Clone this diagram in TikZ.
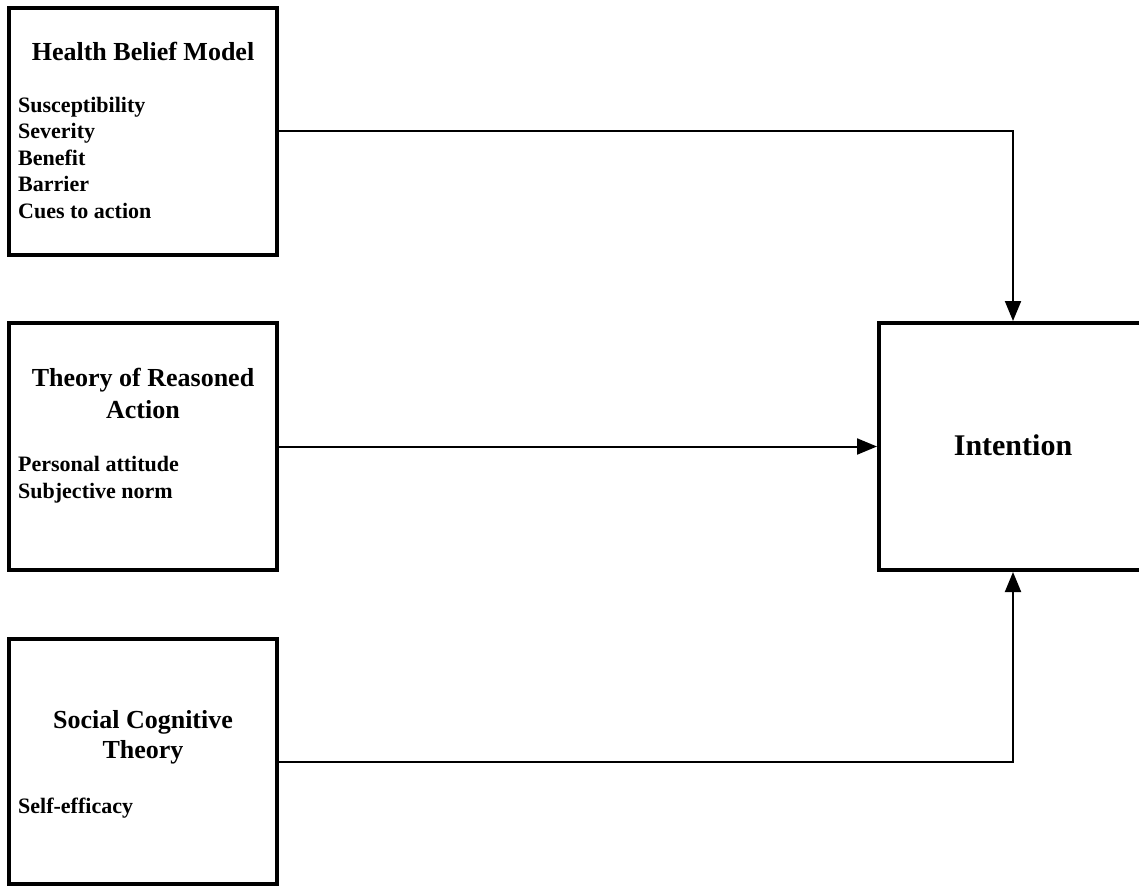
\documentclass[tikz,border=0pt]{standalone}
\usepackage{fontspec}
\setmainfont{Liberation Serif}
\usetikzlibrary{arrows.meta, positioning, calc}

\begin{document}
\begin{tikzpicture}[
        x=1pt, y=-1pt,
        font=\bfseries,
        theory/.style={draw, line width=4pt, minimum width=268pt, minimum height=247pt, inner sep=0pt},
        head/.style={anchor=base, align=center, inner sep=0pt, font=\bfseries\fontsize{26}{31}\selectfont},
        items/.style={anchor=base west, align=left, inner sep=0pt, font=\bfseries\fontsize{22}{26.5}\selectfont},
        line/.style={-{Triangle[length=20pt, width=16pt]}, line width=2pt}
    ]
    \path[use as bounding box, clip] (0,0) rectangle (1139,886);

    % Left: the three models (text placed at the baseline of its last line)
    \node[theory] (hbm) at (143,131) {};
    \node[theory] (tra) at (143,446.5) {};
    \node[theory, minimum height=245pt] (sct) at (143,761.5) {};

    \node[head] (hbmtitle) at (143,60) {Health Belief Model};
    \node[items] (hbmitems) at (18,218) {Susceptibility\\ Severity\\ Benefit\\ Barrier\\ Cues to action};

    \node[head, font=\bfseries\fontsize{26}{32}\selectfont] (tratitle) at (143,418) {Theory of Reasoned\\ Action};
    \node[items] (traitems) at (18,498) {Personal attitude\\ Subjective norm};

    \node[head, font=\bfseries\fontsize{26}{30}\selectfont] (scttitle) at (143,758) {Social Cognitive\\ Theory};
    \node[items] (sctitems) at (18,813) {Self-efficacy};

    % Right: outcome
    \node[theory] (intention) at (1013,446.5) {};
    \node[anchor=base, inner sep=0pt, font=\bfseries\fontsize{30}{36}\selectfont] (intentiontext) at (1013,455) {Intention};

    % Arrows
    \draw[line] (hbm.east) -| (intention.north);
    \draw[line] (tra.east) -- (intention.west);
    \draw[line] (sct.east) -| (intention.south);

\end{tikzpicture}
\end{document}
